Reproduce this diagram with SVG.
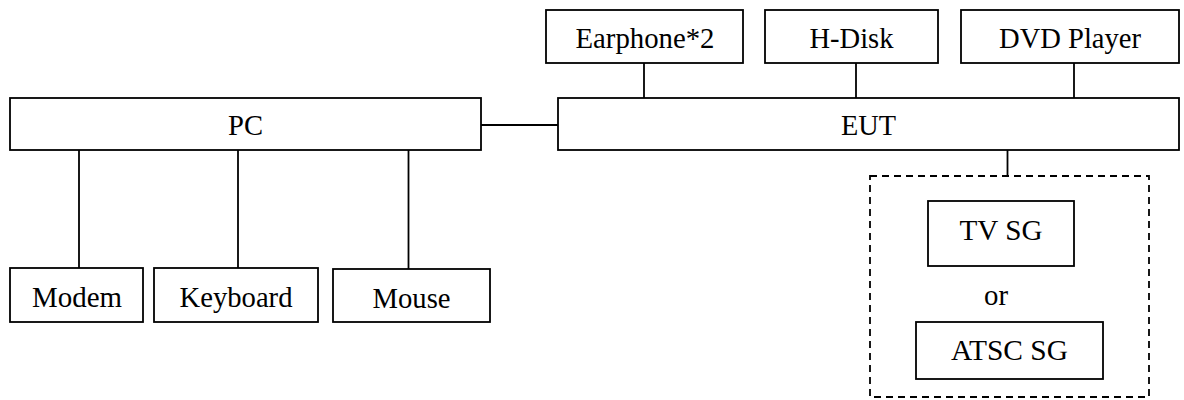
<svg xmlns="http://www.w3.org/2000/svg" width="1184" height="400" viewBox="0 0 1184 400">
<style>
.box{fill:#fff;stroke:#000;stroke-width:1.8}
.dash{fill:none;stroke:#000;stroke-width:1.8;stroke-dasharray:7 5}
.ln{stroke:#000;stroke-width:1.8;fill:none}
text{font-family:"Liberation Serif","Times New Roman",serif;font-size:30px;fill:#000;text-anchor:middle}
</style>
<rect width="1184" height="400" fill="#fff"/>
<g id="connectors">
<line class="ln" x1="481" y1="125" x2="558" y2="125"/>
<line class="ln" x1="79" y1="150" x2="79" y2="268"/>
<line class="ln" x1="238" y1="150" x2="238" y2="268"/>
<line class="ln" x1="408.5" y1="150" x2="408.5" y2="269"/>
<line class="ln" x1="644" y1="63" x2="644" y2="98"/>
<line class="ln" x1="856" y1="63" x2="856" y2="98"/>
<line class="ln" x1="1074" y1="63" x2="1074" y2="98"/>
<line class="ln" x1="1007.5" y1="150" x2="1007.5" y2="176"/>
</g>
<g id="pc"><rect class="box" x="10" y="98" width="471" height="52"/><text x="245.5" y="135" textLength="35" lengthAdjust="spacingAndGlyphs">PC</text></g>
<g id="eut"><rect class="box" x="558" y="98" width="621" height="52"/><text x="868.5" y="135" textLength="55" lengthAdjust="spacingAndGlyphs">EUT</text></g>
<g id="earphone"><rect class="box" x="546" y="10" width="197" height="53"/><text x="645" y="48" textLength="139" lengthAdjust="spacingAndGlyphs">Earphone*2</text></g>
<g id="hdisk"><rect class="box" x="765" y="10" width="173" height="53"/><text x="851.5" y="48" textLength="84" lengthAdjust="spacingAndGlyphs">H-Disk</text></g>
<g id="dvd"><rect class="box" x="961" y="10" width="218" height="53"/><text x="1070" y="48" textLength="142" lengthAdjust="spacingAndGlyphs">DVD Player</text></g>
<g id="modem"><rect class="box" x="10" y="268" width="133" height="54"/><text x="77" y="306.5" textLength="90" lengthAdjust="spacingAndGlyphs">Modem</text></g>
<g id="keyboard"><rect class="box" x="154" y="268" width="164" height="54"/><text x="236" y="306.5" textLength="113" lengthAdjust="spacingAndGlyphs">Keyboard</text></g>
<g id="mouse"><rect class="box" x="333" y="269" width="157" height="53"/><text x="411.5" y="307.5" textLength="78" lengthAdjust="spacingAndGlyphs">Mouse</text></g>
<g id="sg-group">
<rect class="dash" x="870" y="176" width="279" height="221"/>
<g id="tvsg"><rect class="box" x="928" y="201" width="146" height="65"/><text x="1001" y="239.5" textLength="83" lengthAdjust="spacingAndGlyphs">TV SG</text></g>
<text x="996" y="305" textLength="24" lengthAdjust="spacingAndGlyphs">or</text>
<g id="atscsg"><rect class="box" x="916" y="322" width="187" height="57"/><text x="1009.5" y="360" textLength="117" lengthAdjust="spacingAndGlyphs">ATSC SG</text></g>
</g>
</svg>
